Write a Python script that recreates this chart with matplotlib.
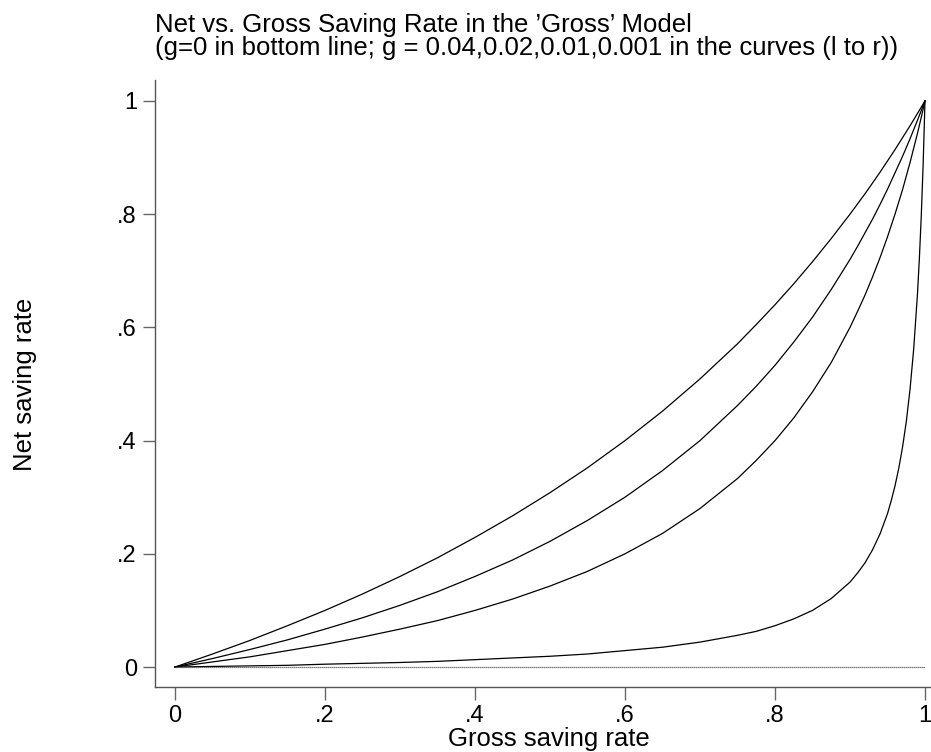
import matplotlib
matplotlib.use('Agg')
import matplotlib.pyplot as plt

plt.rcParams['font.family'] = ['Liberation Sans', 'DejaVu Sans']

# gross saving rate grid
gross = [0, .05, .1, .15, .2, .25, .3, .35, .4, .45, .5, .55, .6, .65, .7,
         .75, .775, .8, .825, .85, .875, .9, .91, .92, .93, .94, .95, .96,
         .97, .98, .99, .995, 1]

# net saving rate, one list per curve (g = 0.04, 0.02, 0.01)
net_g04 = [0, .023, .047, .073, .100, .129, .160, .193, .229, .267, .308, .352,
           .400, .452, .509, .571, .605, .640, .677, .716, .757, .800, .818,
           .836, .855, .874, .894, .914, .935, .956, .978, .989, 1]
net_g02 = [0, .015, .031, .048, .067, .087, .109, .133, .160, .189, .222, .259,
           .300, .347, .400, .462, .496, .533, .574, .618, .667, .720, .743,
           .767, .791, .817, .844, .873, .902, .933, .966, .983, 1]
net_g01 = [0, .009, .018, .029, .040, .053, .067, .082, .100, .120, .143, .169,
           .200, .236, .280, .333, .365, .400, .440, .486, .538, .600, .628,
           .657, .689, .723, .760, .800, .843, .891, .943, .971, 1]

# g = 0.001 bends sharply near 1, so it is read on a finer grid there
gross_g001 = [0, .05, .1, .15, .2, .25, .3, .35, .4, .45, .5, .55, .6, .65, .7,
              .75, .775, .8, .825, .85, .875, .9, .91, .92, .93, .94, .95,
              .955, .96, .965, .97, .975, .98, .985, .99, .9925, .995, .9975, 1]
net_g001 = [0, .001, .002, .003, .005, .0065, .008, .010, .013, .016, .019,
            .023, .029, .035, .044, .056, .063, .073, .085, .100, .121, .150,
            .166, .184, .207, .235, .271, .294, .320, .351, .388, .433, .490,
            .563, .660, .722, .796, .887, 1]

# g = 0 : flat line
gross_g0 = [0, 1]
net_g0 = [0, 0]

title_1 = "Net vs. Gross Saving Rate in the \u2019Gross\u2019 Model"
title_2 = "(g=0 in bottom line; g = 0.04,0.02,0.01,0.001 in the curves (l to r))"
xticks = [0, .2, .4, .6, .8, 1]
xticklabels = ['0', '.2', '.4', '.6', '.8', '1']
yticks = [0, .2, .4, .6, .8, 1]
yticklabels = ['0', '.2', '.4', '.6', '.8', '1']

W, H = 931, 752
fig = plt.figure(figsize=(W / 100, H / 100), dpi=100)
ax = fig.add_axes([155 / W, 65 / H, 776 / W, 607 / H])

for ys in [net_g04, net_g02, net_g01]:
    ax.plot(gross, ys, color='black', lw=0.9)
ax.plot(gross_g001, net_g001, color='black', lw=0.9)
ax.plot(gross_g0, net_g0, color='#555555', lw=0.9, linestyle=(0, (1, 0.6)))

ax.set_xlim(-0.0267, 1.008)
ax.set_ylim(-0.0353, 1.037)

ax.spines['top'].set_visible(False)
ax.spines['right'].set_visible(False)
for s in ['left', 'bottom']:
    ax.spines[s].set_color('#555555')
    ax.spines[s].set_linewidth(1.0)

ax.set_xticks(xticks)
ax.set_xticklabels(xticklabels)
ax.set_yticks(yticks)
ax.set_yticklabels(yticklabels)
ax.tick_params(direction='out', length=9, width=1, color='#666666',
               labelsize=17, pad=4)

# axis titles and the two-line title, placed like the Stata original
fig.text(549 / W, 1 - 746 / H, 'Gross saving rate', fontsize=18.5,
         ha='center', va='baseline')
fig.text(25 / W, 1 - 384 / H, 'Net saving rate', fontsize=18.5,
         ha='center', va='center', rotation=90)
fig.text(155 / W, 1 - 32 / H, title_1, fontsize=18.5, ha='left', va='baseline')
fig.text(155 / W, 1 - 55 / H, title_2, fontsize=18.5, ha='left', va='baseline')

fig.savefig('out.png', dpi=100)
